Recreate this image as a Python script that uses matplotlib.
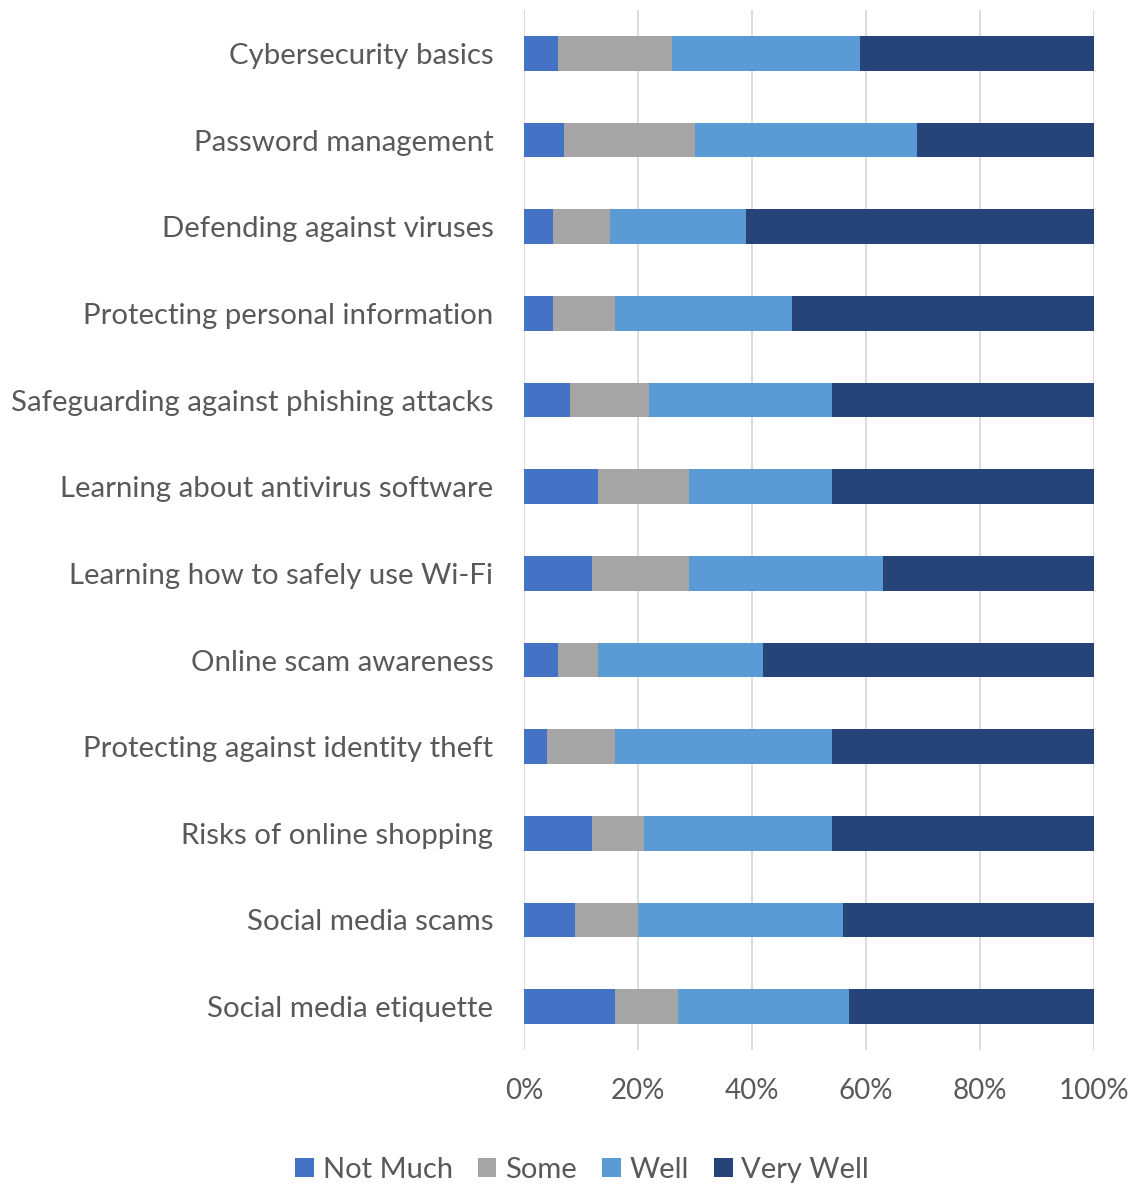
import matplotlib.pyplot as plt
import numpy as np

plt.rcParams['font.family'] = ['Lato', 'DejaVu Sans']

# Survey topics, top to bottom
topics = ["Cybersecurity basics", "Password management", "Defending against viruses",
          "Protecting personal information", "Safeguarding against phishing attacks",
          "Learning about antivirus software", "Learning how to safely use Wi-Fi",
          "Online scam awareness", "Protecting against identity theft",
          "Risks of online shopping", "Social media scams", "Social media etiquette"]

# Share of answers (%) per level
not_much  = [6, 7, 5, 5, 8, 13, 12, 6, 4, 12, 9, 16]
some      = [20, 23, 10, 11, 14, 16, 17, 7, 12, 9, 11, 11]
well      = [33, 39, 24, 31, 32, 25, 34, 29, 38, 33, 36, 30]
very_well = [41, 31, 61, 53, 46, 46, 37, 58, 46, 46, 44, 43]

levels = ["Not Much", "Some", "Well", "Very Well"]
colors = ["#4472C4", "#A5A5A5", "#5B9BD5", "#264478"]
txt = "#595959"

fig = plt.figure(figsize=(11.38, 11.84), dpi=100)
ax = fig.add_axes([524/1138, 1 - 1050/1184, 570/1138, 1040/1184])

y = np.arange(len(topics))
left = np.zeros(len(topics))
for vals, lab, c in zip([not_much, some, well, very_well], levels, colors):
    ax.barh(y, vals, left=left, height=0.4, color=c, label=lab, zorder=3)
    left += np.array(vals)

ax.set_ylim(len(topics) - 0.5, -0.5)
ax.set_xlim(0, 100)
ax.set_yticks(y)
ax.set_yticklabels(topics, fontsize=21.2, color=txt)
ax.set_xticks(range(0, 101, 20))
ax.set_xticklabels([f"{v}%" for v in range(0, 101, 20)], fontsize=20, color=txt)
ax.tick_params(axis='y', length=0, pad=22)
ax.tick_params(axis='x', length=0, pad=20)
ax.grid(axis='x', color='#D9D9D9', linewidth=1.3, zorder=0)
for s in ax.spines.values():
    s.set_visible(False)

ax.legend(loc='center', bbox_to_anchor=(582/1138, 1 - 1170/1184), bbox_transform=fig.transFigure,
          ncol=4, frameon=False, fontsize=21, labelcolor=txt, handlelength=0.65, handleheight=0.65,
          handletextpad=0.3, columnspacing=0.85)

fig.savefig("out.png", dpi=100)
